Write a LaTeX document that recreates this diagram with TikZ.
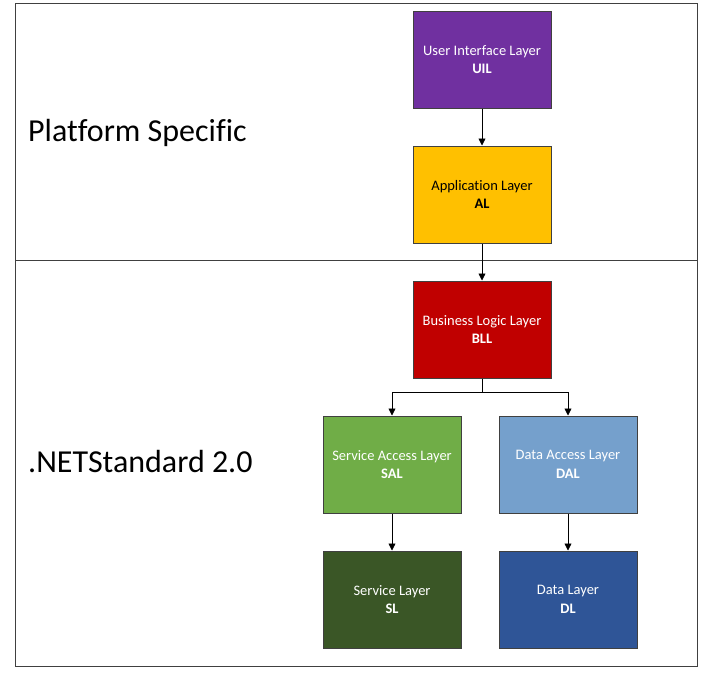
\documentclass[tikz,border=0pt]{standalone}
\usepackage{fontspec}
\setmainfont[Ligatures=NoCommon]{Carlito}
\usetikzlibrary{arrows.meta}
\definecolor{uil}{HTML}{7030A0}
\definecolor{al}{HTML}{FFC000}
\definecolor{bll}{HTML}{C00000}
\definecolor{sal}{HTML}{70AD47}
\definecolor{dal}{HTML}{75A0CC}
\definecolor{sl}{HTML}{3A5626}
\definecolor{dl}{HTML}{2F5597}
\definecolor{edge}{HTML}{404040}
\tikzset{
  layer/.style={draw=edge, line width=1pt, minimum width=138pt, minimum height=97pt,
    inner sep=0pt, align=center, font=\fontsize{14.5}{18.5}\selectfont, text=white},
  conn/.style={draw=black, line width=0.8pt, -{Triangle[width=7pt,length=7pt]}},
  frame/.style={draw=edge, line width=1pt},
  biglabel/.style={anchor=base west, inner sep=0pt, font=\fontsize{32}{36}\selectfont}
}
\begin{document}
\begin{tikzpicture}[x=1pt,y=-1pt]
\useasboundingbox (0,0) rectangle (703,675);
\fill[white] (0,0) rectangle (703,675);
\draw[frame] (15,3) rectangle (697,666);
\draw[frame] (15,260) -- (697,260);
\node[biglabel] (ps) at (28,141.5) {Platform Specific};
\node[biglabel] (ns) at (28,472.5) {.NETStandard 2.0};
\node[layer, fill=uil] (uil) at (482,59.5) {User Interface Layer\\\textbf{UIL}};
\node[layer, fill=al, text=black] (al) at (482,194.5) {Application Layer\\\textbf{AL}};
\node[layer, fill=bll] (bll) at (482,329.5) {Business Logic Layer\\\textbf{BLL}};
\node[layer, fill=sal] (sal) at (392,464.5) {Service Access Layer\\\textbf{SAL}};
\node[layer, fill=dal] (dal) at (568,464.5) {Data Access Layer\\\textbf{DAL}};
\node[layer, fill=sl] (sl) at (392,599.5) {Service Layer\\\textbf{SL}};
\node[layer, fill=dl] (dl) at (568,599.5) {Data Layer\\\textbf{DL}};
\coordinate (split) at (482,392);
\draw[conn] (uil) -- (al);
\draw[conn] (al) -- (bll);
\draw[line width=0.8pt] (bll.south) -- (split);
\draw[conn] (split) -| (sal.north);
\draw[conn] (split) -| (dal.north);
\draw[conn] (sal) -- (sl);
\draw[conn] (dal) -- (dl);
\end{tikzpicture}
\end{document}
